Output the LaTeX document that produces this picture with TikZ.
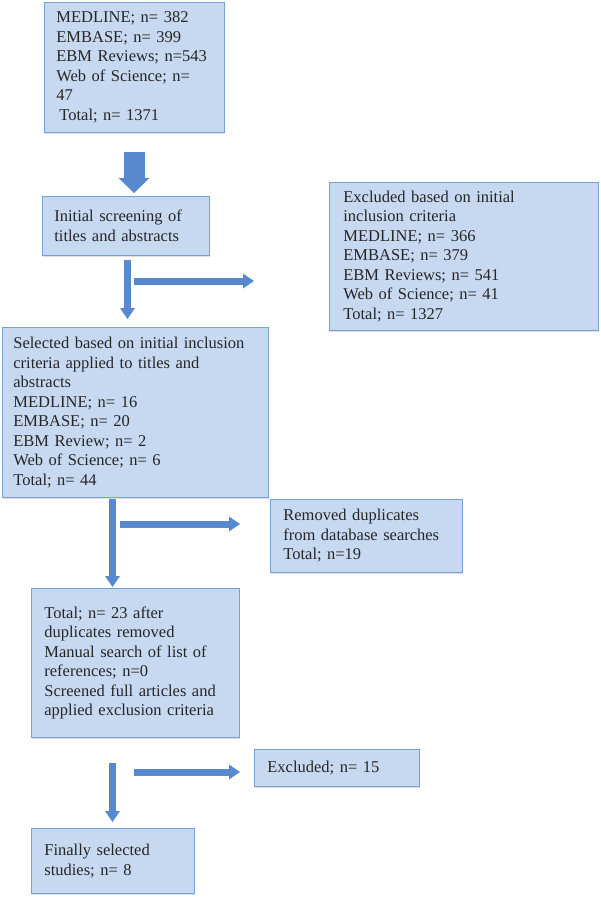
\documentclass[tikz,border=0pt]{standalone}
\usepackage{fontspec}
\setmainfont{Liberation Serif}
\usepackage{xcolor}
\usepackage{tikz}
\usetikzlibrary{arrows.meta,shadows}
\definecolor{boxfill}{RGB}{198,217,241}
\definecolor{boxline}{RGB}{120,160,215}
\definecolor{arrowblue}{RGB}{88,137,207}
\definecolor{inkgray}{RGB}{38,38,38}

\begin{document}
\begin{tikzpicture}[x=1pt,y=-1pt,
    box/.style={draw=boxline,fill=boxfill,line width=0.8pt,anchor=north west,align=left,
      inner ysep=0pt,text=inkgray,font=\fontsize{16.5}{19.5}\selectfont,
      drop shadow={shadow xshift=0.6pt,shadow yshift=-1.4pt,opacity=0.25}},
    bigarrow/.style={draw=arrowblue,line width=21pt,-{Triangle[width=31pt,length=15pt,line width=0pt]}},
    thinarrow/.style={draw=arrowblue,line width=7pt,-{Triangle[width=15pt,length=11pt,line width=0pt]}}]
                \useasboundingbox (0,0) rectangle (600,899);
                % boxes
                \node[box,inner xsep=12pt,text width=156pt,minimum height=130pt] (src) at (44,2)
                  {MEDLINE; n= 382\\EMBASE; n= 399\\EBM Reviews; n=543\\Web of Science; n=\\47\\\hspace*{3pt}Total; n= 1371};
                \node[box,inner xsep=12pt,text width=143pt,minimum height=59pt] (scr) at (42,196)
                  {Initial screening of\\titles and abstracts};
                \node[box,inner xsep=14pt,text width=241pt,minimum height=148pt] (exc) at (329,182)
                  {Excluded based on initial\\inclusion criteria\\MEDLINE; n= 366\\EMBASE; n= 379\\EBM Reviews; n= 541\\Web of Science; n= 41\\Total; n= 1327};
                \node[box,inner xsep=11pt,text width=244pt,minimum height=170pt] (sel) at (2,327)
                  {Selected based on initial inclusion\\criteria applied to titles and\\abstracts\\MEDLINE; n= 16\\EMBASE; n= 20\\EBM Review; n= 2\\Web of Science; n= 6\\Total; n= 44};
                \node[box,inner xsep=13pt,text width=166pt,minimum height=73pt] (dup) at (270,499)
                  {Removed duplicates\\from database searches\\Total; n=19};
                \node[box,inner xsep=13pt,text width=182pt,minimum height=149pt] (ful) at (31,588)
                  {Total; n= 23 after\\duplicates removed\\Manual search of list of\\references; n=0\\Screened full articles and\\applied exclusion criteria};
                \node[box,inner xsep=13pt,text width=139pt,minimum height=37pt] (exb) at (254,749)
                  {Excluded; n= 15};
                \node[box,inner xsep=13pt,text width=137pt,minimum height=65pt] (fin) at (31,828)
                  {Finally selected\\studies; n= 8};
                % arrow columns and free ends
                \coordinate (c1) at (134,0);
                \coordinate (c2) at (127.5,0);
                \coordinate (c3) at (112.5,0);
                \coordinate (t1) at (134,281);
                \coordinate (h1) at (254,281);
                \coordinate (t2) at (120,524);
                \coordinate (h2) at (240,524);
                \coordinate (t3) at (134,772);
                \coordinate (h3) at (240,772);
                % arrows
                \draw[bigarrow,shorten <=19pt,shorten >=3pt] (src.south -| c1) -- (scr.north -| c1);
                \draw[thinarrow,shorten <=4pt,shorten >=8pt] (scr.south -| c2) -- (sel.north -| c2);
                \draw[thinarrow] (t1) -- (h1);
                \draw[thinarrow,shorten <=1pt,shorten >=1pt] (sel.south -| c3) -- (ful.north -| c3);
                \draw[thinarrow] (t2) -- (h2);
                \draw[thinarrow,shorten <=25pt,shorten >=6pt] (ful.south -| c3) -- (fin.north -| c3);
                \draw[thinarrow] (t3) -- (h3);
              \end{tikzpicture}
\end{document}
